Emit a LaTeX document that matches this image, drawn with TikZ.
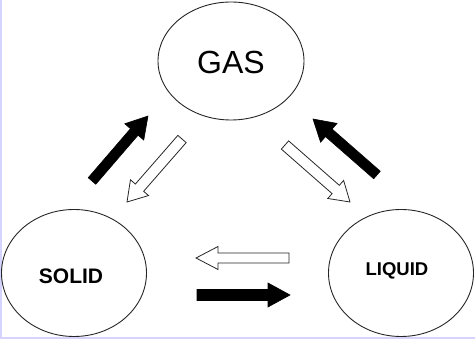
\documentclass[tikz,border=0pt]{standalone}
\usepackage{fontspec}
\setmainfont{Liberation Sans}
\definecolor{lav}{RGB}{212,212,255}
\tikzset{
  phase/.style={draw=black!85, line width=0.9pt, ellipse, inner sep=0pt},
  solidarrow/.style={fill=black, draw=black, line width=0.6pt, line join=miter},
  hollowarrow/.style={fill=white, draw=black!85, line width=0.8pt, line join=miter},
}
\usetikzlibrary{shapes.geometric}
% block arrow from tail coordinate #2 to tip coordinate #3
% #4 half shaft width, #5 half head width, #6 head length (pt)
\newcommand\blockarr[6]{%
  \pgfpointanchor{#2}{center}\pgfgetlastxy\axa\aya
  \pgfpointanchor{#3}{center}\pgfgetlastxy\axb\ayb
  \pgfmathsetmacro\aang{atan2(\ayb-\aya,\axb-\axa)}%
  \pgfmathsetmacro\alen{veclen(\axb-\axa,\ayb-\aya)}%
  \pgfmathsetmacro\abase{\alen-#6}%
  \draw[#1, shift={(\axa,\aya)}, rotate=\aang, x=1pt, y=1pt]
    (0,-#4) -- (\abase,-#4) -- (\abase,-#5) -- (\alen,0) -- (\abase,#5)
    -- (\abase,#4) -- (0,#4) -- cycle;
}
\begin{document}
\begin{tikzpicture}[x=1pt,y=-1pt]
  \useasboundingbox (0,0) rectangle (475,339);
  \fill[lav] (0,0) rectangle (2,339);
  \fill[lav] (0,337) rectangle (475,339);
  \node[phase, minimum width=146pt, minimum height=118pt] (gas) at (231,61) {};
  \node[font=\fontsize{32}{32}\selectfont] (gast) at (231,62) {GAS};
  \node[phase, minimum width=145pt, minimum height=127pt] (solid) at (74,273) {};
  \node[font=\fontsize{21}{21}\selectfont\bfseries] (solidt) at (71,276) {SOLID};
  \node[phase, minimum width=145pt, minimum height=127pt] (liquid) at (401,273) {};
  \node[font=\fontsize{18.5}{18.5}\selectfont\bfseries] (liquidt) at (397,271) {LIQUID};
  % arrow end points
  \coordinate (a1t) at (92,181);  \coordinate (a1h) at (148,116);
  \coordinate (a2t) at (182,139); \coordinate (a2h) at (127,202);
  \coordinate (a3t) at (377,175); \coordinate (a3h) at (313,119);
  \coordinate (a4t) at (285,145); \coordinate (a4h) at (350,202);
  \coordinate (a5t) at (289,258); \coordinate (a5h) at (196,258);
  \coordinate (a6t) at (197,295); \coordinate (a6h) at (290,295);
  \blockarr{solidarrow}{a1t}{a1h}{5}{12.5}{21}
  \blockarr{hollowarrow}{a2t}{a2h}{5.5}{12}{19}
  \blockarr{solidarrow}{a3t}{a3h}{5}{12.5}{21}
  \blockarr{hollowarrow}{a4t}{a4h}{5.5}{12}{19}
  \blockarr{hollowarrow}{a5t}{a5h}{5}{11.5}{22}
  \blockarr{solidarrow}{a6t}{a6h}{5.5}{12}{22}
\end{tikzpicture}
\end{document}
